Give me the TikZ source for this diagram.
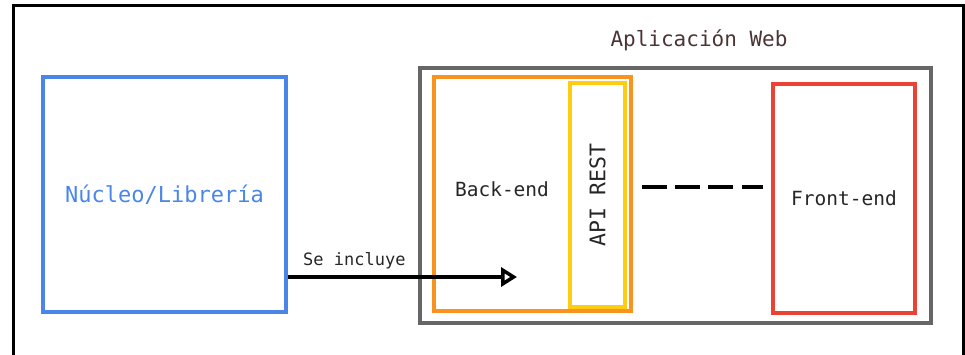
\documentclass[tikz,border=0pt]{standalone}
\usepackage{fontspec}
\setmainfont{DejaVu Sans Mono}
\usepackage{xcolor}
\usepackage{tikz}
\usetikzlibrary{positioning,arrows.meta}

\definecolor{libblue}{HTML}{4A86E8}
\definecolor{appgray}{HTML}{666666}
\definecolor{backorange}{HTML}{F7931E}
\definecolor{apiyellow}{HTML}{FFCC14}
\definecolor{frontred}{HTML}{EA4335}
\definecolor{titlebrown}{HTML}{4A3434}

\begin{document}
\begin{tikzpicture}[
  x=1pt, y=-1pt,
  lbl/.style={text=black!85, font=\fontsize{19.5}{23}\selectfont},
  blk/.style={draw, line width=4pt, inner sep=0pt},
  arr/.style={-{Triangle[open, length=16pt, width=19pt]}, line width=3.5pt},
  link/.style={line width=4pt, dash pattern=on 25pt off 8.3pt}]
\useasboundingbox (0,0) rectangle (965,354);
% frame of the page
\draw[line width=3pt] (13,380) -- (13,5) -- (963,5) -- (963,380);

% library
\node[blk, draw=libblue, minimum width=243pt, minimum height=235pt,
      text=libblue, font=\fontsize{22}{26}\selectfont] (nucleo) at (164.5,194.5) {Núcleo/Librería};

% web application
\node[blk, draw=appgray, minimum width=511pt, minimum height=255pt] (app) at (675.5,195.5) {};
\node[text=titlebrown, font=\fontsize{21}{25}\selectfont] (apptitle) at (699,40) {Aplicación Web};
\node[blk, draw=backorange, minimum width=197pt, minimum height=234pt] (backend) at (532.5,194) {};
\node[lbl] (backtxt) at (502,189) {Back-end};
\node[blk, draw=apiyellow, line width=3.5pt, minimum width=55pt, minimum height=224pt] (api) at (597.5,195) {};
\node[lbl, rotate=90, font=\fontsize{21.5}{25}\selectfont] (apitxt) at (api.center) {API REST};
\node[blk, draw=frontred, minimum width=142pt, minimum height=229pt, lbl] (frontend) at (844,198.5) {Front-end};

% connections
\coordinate (incl) at (517,277);
\draw[arr] (nucleo.east |- incl) -- (incl)
  node[pos=0.29, above=3pt, text=black!85, font=\fontsize{17}{20}\selectfont] {Se incluye};
\draw[link] ([shift={(15,-8)}]api.east) -- ([shift={(-8,-11.5)}]frontend.west);
\end{tikzpicture}
\end{document}
